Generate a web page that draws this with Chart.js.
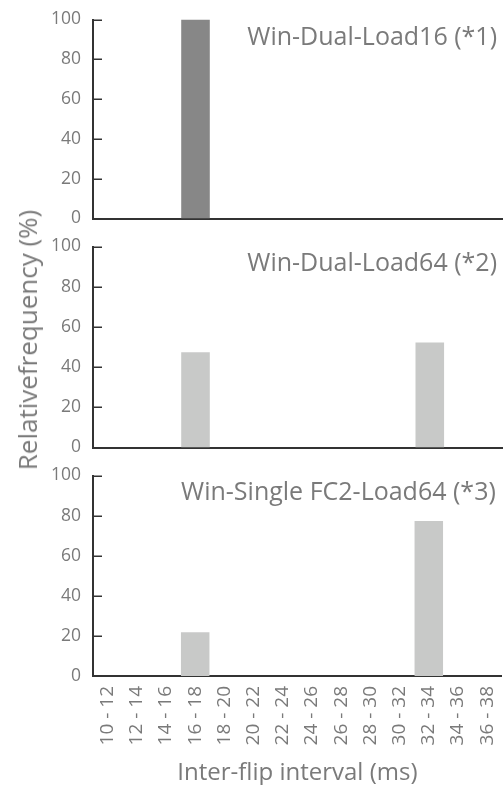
<!DOCTYPE html>
<html><head><meta charset="utf-8">
<script src="https://cdn.jsdelivr.net/npm/chart.js@4.4.1/dist/chart.umd.min.js"></script>
<style>
html,body{margin:0;padding:0;background:#fff;}
#wrap{position:relative;width:503px;height:785px;overflow:hidden;background:#fff;}
canvas{position:absolute;left:0;}
#ytitle{position:absolute;left:27px;top:340px;transform:translate(-50%,-50%) rotate(-90deg);white-space:nowrap;font:26px "Open Sans";color:#7a7a7a;}
</style></head><body>
<div id="wrap">
<canvas id="c1" width="503" height="244" style="top:-3px"></canvas>
<canvas id="c2" width="503" height="246" style="top:224px"></canvas>
<canvas id="c3" width="520" height="332" style="top:453px"></canvas>
<div id="ytitle">Relativefrequency (%)</div>
</div>
<script>
const categories = ['10 - 12','12 - 14','14 - 16','16 - 18','18 - 20','20 - 22','22 - 24','24 - 26','26 - 28','28 - 30','30 - 32','32 - 34','34 - 36','36 - 38'];
const dualLoad16 = [0,0,0,100,0,0,0,0,0,0,0,0,0,0];
const dualLoad64 = [0,0,0,47.4,0,0,0,0,0,0,0,52.2,0,0];
const singleFC2Load64 = [0,0,0,21.8,0,0,0,0,0,0,0,77.3,0,0];
const panelTitles = ['Win-Dual-Load16 (*1)','Win-Dual-Load64 (*2)','Win-Single FC2-Load64 (*3)'];
const yTicks = [0,20,40,60,80,100];
const xTitle = 'Inter-flip interval (ms)';

const FONT = '"Open Sans", sans-serif';
const GRAY = '#7a7a7a';
const AXIS = '#333333';

const innerTicks = {
  id: 'innerTicks',
  afterDraw(chart) {
    const ctx = chart.ctx, y = chart.scales.y, a = chart.chartArea;
    ctx.save();
    ctx.strokeStyle = AXIS; ctx.lineWidth = 1.5;
    y.ticks.forEach(t => {
      const py = Math.round(y.getPixelForValue(t.value)) + 0.25;
      ctx.beginPath(); ctx.moveTo(a.left, py); ctx.lineTo(a.left + 9, py); ctx.stroke();
    });
    const o = chart.options.plugins.panelTitle;
    ctx.fillStyle = GRAY;
    ctx.font = '25px ' + FONT;
    ctx.textAlign = 'right'; ctx.textBaseline = 'middle';
    ctx.fillText(o.text, Math.min(a.right, 503) - 6, a.top + o.dy);
    ctx.restore();
  }
};

function make(id, data, color, title, xHeight, showX, dy) {
  return new Chart(document.getElementById(id), {
    type: 'bar',
    data: { labels: categories, datasets: [{ data: data, backgroundColor: color, borderWidth: 0, barPercentage: 0.976, categoryPercentage: 1.0 }] },
    options: {
      responsive: false, animation: false,
      layout: { padding: 0 },
      plugins: { legend: { display: false }, tooltip: { enabled: false }, panelTitle: { text: title, dy: dy } },
      scales: {
        x: {
          z: 1,
          grid: { display: false, drawTicks: false },
          border: { display: true, color: AXIS, width: 2 },
          ticks: { display: showX, color: GRAY, font: { family: FONT, size: 19 }, minRotation: 90, maxRotation: 90, padding: 10, autoSkip: false },
          title: { display: showX, text: xTitle, color: GRAY, font: { family: FONT, size: 24, lineHeight: 1.0 }, padding: { top: 4, bottom: 0 } },
          afterFit(s) { s.height = xHeight; }
        },
        y: {
          min: 0, max: 100,
          afterBuildTicks(s) { s.ticks = yTicks.map(v => ({ value: v })); },
          grid: { display: false, drawTicks: false },
          border: { display: true, color: AXIS, width: 2 },
          ticks: { color: GRAY, font: { family: FONT, size: 17.5 }, padding: 12 },
          afterFit(s) { s.width = 93; }
        }
      }
    },
    plugins: [innerTicks]
  });
}

make('c1', dualLoad16, '#878787', panelTitles[0], 11, false, 18);
make('c2', dualLoad64, '#c8c9c8', panelTitles[1], 12, false, 17);
make('c3', singleFC2Load64, '#c8c9c8', panelTitles[2], 109, true, 17);
</script>
</body></html>
